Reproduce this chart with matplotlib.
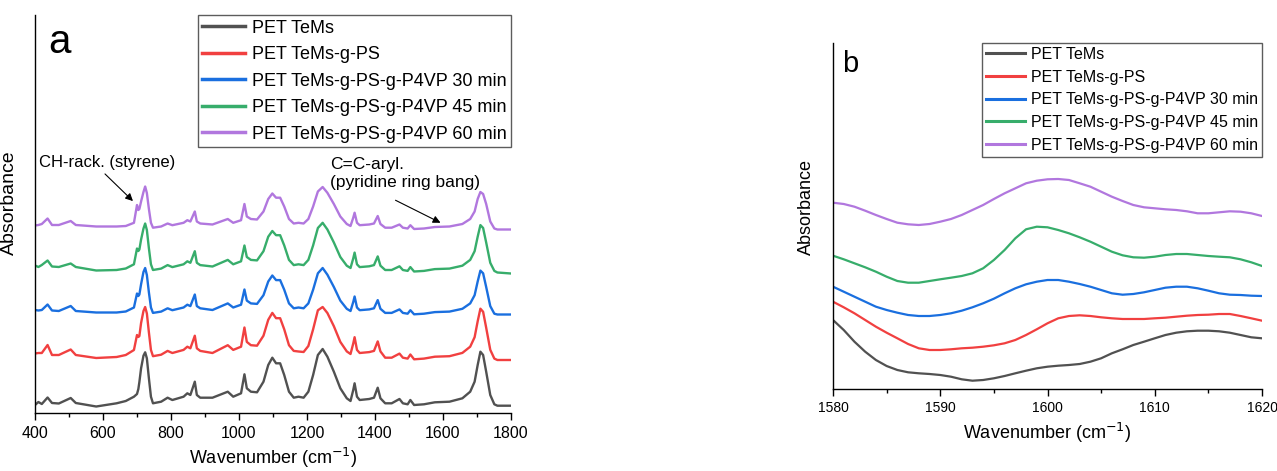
import numpy as np
import matplotlib
matplotlib.use('Agg')
import matplotlib.pyplot as plt

plt.rcParams['font.family'] = ['Liberation Sans', 'DejaVu Sans']

###### dane (a) - wartosci w jednostkach umownych
labels = ['PET TeMs', 'PET TeMs-g-PS', 'PET TeMs-g-PS-g-P4VP 30 min',
          'PET TeMs-g-PS-g-P4VP 45 min', 'PET TeMs-g-PS-g-P4VP 60 min']
colors = ['#515151', '#F14040', '#1A6FDF', '#37AD6B', '#B177DE']

wn_a = [400, 410, 420, 437, 450, 470, 505, 520, 580, 640, 667, 691, 700, 704, 707, 712,
        719, 724, 729, 735, 741, 747, 771, 790, 804, 837, 848, 857, 870, 876, 886, 922,
        967, 983, 1006, 1016, 1023, 1035, 1053, 1072, 1086, 1098, 1109, 1121, 1133, 1147,
        1161, 1175, 1190, 1204, 1218, 1232, 1246, 1260, 1279, 1298, 1317, 1328, 1336, 1340,
        1347, 1355, 1383, 1397, 1408, 1416, 1430, 1449, 1472, 1482, 1496, 1504, 1515, 1544,
        1576, 1619, 1657, 1680, 1693, 1702, 1710, 1718, 1727, 1739, 1751, 1760, 1800]

pet = [8, 11, 9, 15.5, 10, 9.5, 15, 10, 6.5, 9.7, 12, 16.3, 19, 24, 31, 44.7,
       57.3, 60.7, 54.7, 34.7, 16.3, 9.7, 11.3, 15.3, 13, 16.3, 19.7, 18, 31.3, 18, 15.3, 15.3,
       21.3, 16.3, 19.7, 38.7, 24.7, 21.3, 20.7, 31.3, 48, 55.3, 49.7, 49.7, 38, 21.3,
       15.3, 16.3, 15.3, 21.3, 38, 58, 64, 56.3, 41.3, 24.7, 14.7, 12, 23, 29.7,
       16.3, 13, 14, 15.3, 25.3, 14.7, 9.7, 9.7, 14, 9.7, 8.7, 13, 8, 8.7,
       10.7, 11.3, 14.7, 21.3, 31.3, 48, 61.3, 58, 41.3, 18, 8.7, 7.3, 7.3]

pet_ps = [59.5, 60, 60, 68, 58, 58, 63.5, 58, 55, 56, 58, 63, 78, 76, 77, 90,
          102, 106, 99.6, 80.6, 63.1, 56.8, 58.3, 62.1, 60, 63.1, 66.3, 64.7, 77.3, 64.7, 62.1, 60,
          67.8, 63.1, 66.3, 85.5, 71.1, 67.8, 67.3, 77.3, 93.2, 100.1, 94.8, 94.8, 83.7, 67.8,
          62.1, 61.5, 61, 67, 83.7, 102.7, 106, 100, 86.8, 71.1, 61.6, 59, 69.5, 75.8,
          63.1, 60, 60.9, 62.1, 71.6, 61.6, 55.3, 55.3, 59.4, 55.3, 54.4, 58.5, 53.7, 54.4,
          56.3, 56.8, 60.1, 66.3, 75.8, 91.7, 104.3, 101.2, 85.3, 63.2, 54.4, 53, 53]

p4vp_30 = [103, 102.5, 103, 108.5, 102.5, 102, 107, 102, 100.5, 100.5, 101.5, 105.5, 119.5, 117, 118.5, 128.8,
           141, 145, 138, 120.6, 105.5, 100.1, 101.4, 104.7, 102.8, 105.5, 108.3, 106.9, 118.5, 106.9, 104.7, 103,
           109.6, 105.5, 108.3, 123.5, 112.4, 109.6, 109.1, 117.8, 131.5, 137.5, 132.9, 132.9, 123.3, 109.6,
           104.7, 105.5, 104.7, 109.6, 123.3, 139.7, 145, 138.3, 126, 112.4, 104.2, 102, 111, 116.5,
           105.5, 102.8, 103.6, 104.7, 112.9, 104.2, 100.1, 100.1, 103.6, 100.1, 99.3, 102.8, 98.7, 99.3,
           100.9, 101.4, 104.2, 109.6, 117.8, 131.5, 142.4, 139.7, 126, 106.9, 99.3, 98.5, 98.5]

p4vp_45 = [147.5, 146, 148, 152.5, 146.5, 146, 149.5, 146, 142.5, 143, 144.5, 148.7, 164.5, 162, 163.5, 173.4,
           184.4, 189.5, 183, 164.7, 148.7, 143, 144.4, 147.9, 145.9, 148.7, 151.7, 150.2, 161.8, 150.2, 147.9, 146.5,
           153.1, 148.7, 151.7, 167.5, 156, 153.1, 152.6, 161.8, 176.3, 182, 177.8, 177.8, 167.6, 153.1,
           147.9, 148.7, 147.9, 153.1, 167.6, 185, 190.2, 183.5, 170.5, 156, 147.3, 145, 154.6, 160.4,
           148.7, 145.9, 146.7, 147.9, 156.6, 147.3, 143, 143, 146.7, 143, 142.1, 145.9, 141.5, 142.1,
           143.9, 144.4, 147.3, 153.1, 161.8, 176.3, 187.9, 185, 170.5, 150.2, 142.1, 140.5, 139.5]

p4vp_60 = [187.5, 188, 189, 194.5, 188, 188, 192, 188, 186.5, 186.5, 187, 190.2, 208, 203, 204, 211.5,
           221, 226.5, 220, 204, 190.2, 185.3, 186.5, 189.5, 187.8, 190.2, 192.8, 191.5, 201.5, 191.5, 189.5, 188.5,
           194, 190.2, 192.8, 209, 196.5, 194, 193.5, 201.5, 214, 219.5, 215.3, 215.3, 206.5, 194,
           189.5, 190.2, 189.5, 194, 206.5, 221.5, 226, 220.2, 209, 196.5, 189, 187, 195.3, 200.3,
           190.2, 187.8, 188.5, 189.5, 197, 189, 185.3, 185.3, 188.5, 185.3, 184.5, 187.8, 184, 184.5,
           186, 186.5, 189, 194, 201.5, 214, 221, 219, 209, 191.5, 184.5, 183.5, 183.5]

###### dane dla wykresu (b) 1580-1620
wn_b = list(range(1580, 1621))

pet_b = [69, 59, 47.3, 37.3, 29, 23, 19, 16.7, 15.7, 15, 14, 12.3, 9.7, 8.3, 9, 10.7, 13, 15.7, 18.3, 20.7,
         22.3, 23.3, 24, 25, 27.3, 30.7, 35.7, 39.7, 44, 47.3, 50.7, 54, 56.3, 57.7, 58.3, 58.3, 57.7, 56.3,
         54, 51.7, 50.7]
pet_ps_b = [87.3, 81.7, 75.7, 69, 62.3, 56.3, 50.7, 45, 40.7, 39, 39, 39.7, 40.7, 41.3, 42.3, 43.7, 45.7, 49,
            54, 59.7, 65.7, 70.7, 73, 73.7, 73, 71.7, 70.7, 70, 70, 70, 70.7, 71.3, 72.3, 73.3, 74, 74.3, 75,
            75, 73, 70.7, 68.3]
p4vp_30_b = [102.3, 97.3, 92.3, 87.3, 82.3, 79, 76.3, 74, 73, 73, 74, 75.7, 78.3, 81.7, 85.7, 90.3, 95.7,
             100.7, 104.7, 107.3, 109, 109, 107.3, 105, 102.3, 99, 95.7, 94.3, 95, 96.7, 99, 101.3, 102.3,
             102.3, 100.7, 98.3, 95.7, 94.3, 94, 93.3, 93]
p4vp_45_b = [133.3, 129.7, 125.7, 121.7, 117.3, 112.3, 108, 106.3, 106.3, 108, 109.7, 111.3, 113, 115.7,
             120.7, 129, 139, 150.7, 159.7, 162.3, 161.7, 159, 155.7, 151.7, 147.3, 142.3, 137.3, 133.7,
             131.7, 131.3, 132.3, 134, 135, 135, 134, 133, 132.3, 131.7, 129.7, 126.7, 123]
p4vp_60_b = [186.3, 185, 182.3, 178.3, 174, 170, 166.3, 164.7, 164, 165, 167.3, 170, 174, 179, 184, 190,
             195.7, 200.7, 205.7, 208.3, 209.7, 210, 209, 205.7, 202.3, 197.3, 192.3, 188, 184, 181.7, 180.7,
             179.7, 179, 177.7, 175.7, 175.7, 176.7, 177.7, 177.3, 175.7, 173]

series_a = [pet, pet_ps, p4vp_30, p4vp_45, p4vp_60]
series_b = [pet_b, pet_ps_b, p4vp_30_b, p4vp_45_b, p4vp_60_b]

fig = plt.figure(figsize=(12.77, 4.71), dpi=100)
ax = fig.add_axes([35/1277, 58/471, 476/1277, 398/471])
ax2 = fig.add_axes([833/1277, 82/471, 429/1277, 346/471])


def styl(a, fs_tick):
    for s in ['top', 'right']:
        a.spines[s].set_visible(False)
    for s in ['left', 'bottom']:
        a.spines[s].set_linewidth(1.0)
    a.set_yticks([])
    a.tick_params(axis='x', which='major', direction='out', length=5, width=1, labelsize=fs_tick, pad=4)
    a.tick_params(axis='x', which='minor', direction='out', length=3, width=1)


############ wykres (a)
for y, c, l in zip(series_a, colors, labels):
    ax.plot(wn_a, y, color=c, lw=1.7, label=l, solid_joinstyle='round')
ax.set_xlim(400, 1800)
ax.set_ylim(0, 398)
ax.set_xticks(np.arange(400, 1801, 200))
ax.set_xticks(np.arange(500, 1800, 200), minor=True)
styl(ax, 11.5)
ax.set_xlabel('Wavenumber (cm$^{-1}$)', fontsize=13, labelpad=4)
ax.set_ylabel('Absorbance', fontsize=14)
ax.yaxis.set_label_coords(-0.036, 0.528)
ax.text(0.027, 0.905, 'a', transform=ax.transAxes, fontsize=29, va='baseline')
leg = ax.legend(loc='upper right', fontsize=13, frameon=True, fancybox=False, borderaxespad=0,
                handlelength=2.4, handletextpad=0.35, labelspacing=0.53, borderpad=0.25)
leg.get_frame().set_edgecolor('#333333')
leg.get_frame().set_linewidth(1.0)
for ln in leg.get_lines():
    ln.set_linewidth(2.5)

ax.annotate('', xy=(694, 210), xytext=(600, 241),
            arrowprops=dict(arrowstyle='-|>', color='black', lw=0.8, mutation_scale=11))
ax.text(412, 250, 'CH-rack. (styrene)', fontsize=12, va='center', ha='left')
ax.annotate('', xy=(1600, 189), xytext=(1453, 214),
            arrowprops=dict(arrowstyle='-|>', color='black', lw=0.8, mutation_scale=11))
ax.text(1268, 256, 'C=C-aryl.\n(pyridine ring bang)', fontsize=12.5, va='top', ha='left',
        linespacing=1.25)

############ wykres (b)
for y, c, l in zip(series_b, colors, labels):
    ax2.plot(wn_b, y, color=c, lw=1.6, label=l, solid_joinstyle='round')
ax2.set_xlim(1580, 1620)
ax2.set_ylim(0, 346)
ax2.set_xticks(np.arange(1580, 1621, 10))
ax2.set_xticks(np.arange(1585, 1620, 10), minor=True)
styl(ax2, 10)
ax2.set_xlabel('Wavenumber (cm$^{-1}$)', fontsize=13, labelpad=4)
ax2.set_ylabel('Absorbance', fontsize=13)
ax2.yaxis.set_label_coords(-0.042, 0.527)
ax2.text(0.021, 0.915, 'b', transform=ax2.transAxes, fontsize=21, va='baseline')
leg2 = ax2.legend(loc='upper right', fontsize=11.5, frameon=True, fancybox=False, borderaxespad=0,
                  handlelength=2.45, handletextpad=0.37, labelspacing=0.48, borderpad=0.25)
leg2.get_frame().set_edgecolor('#333333')
leg2.get_frame().set_linewidth(1.0)
for ln in leg2.get_lines():
    ln.set_linewidth(2.2)

plt.savefig('out.png', dpi=100)
